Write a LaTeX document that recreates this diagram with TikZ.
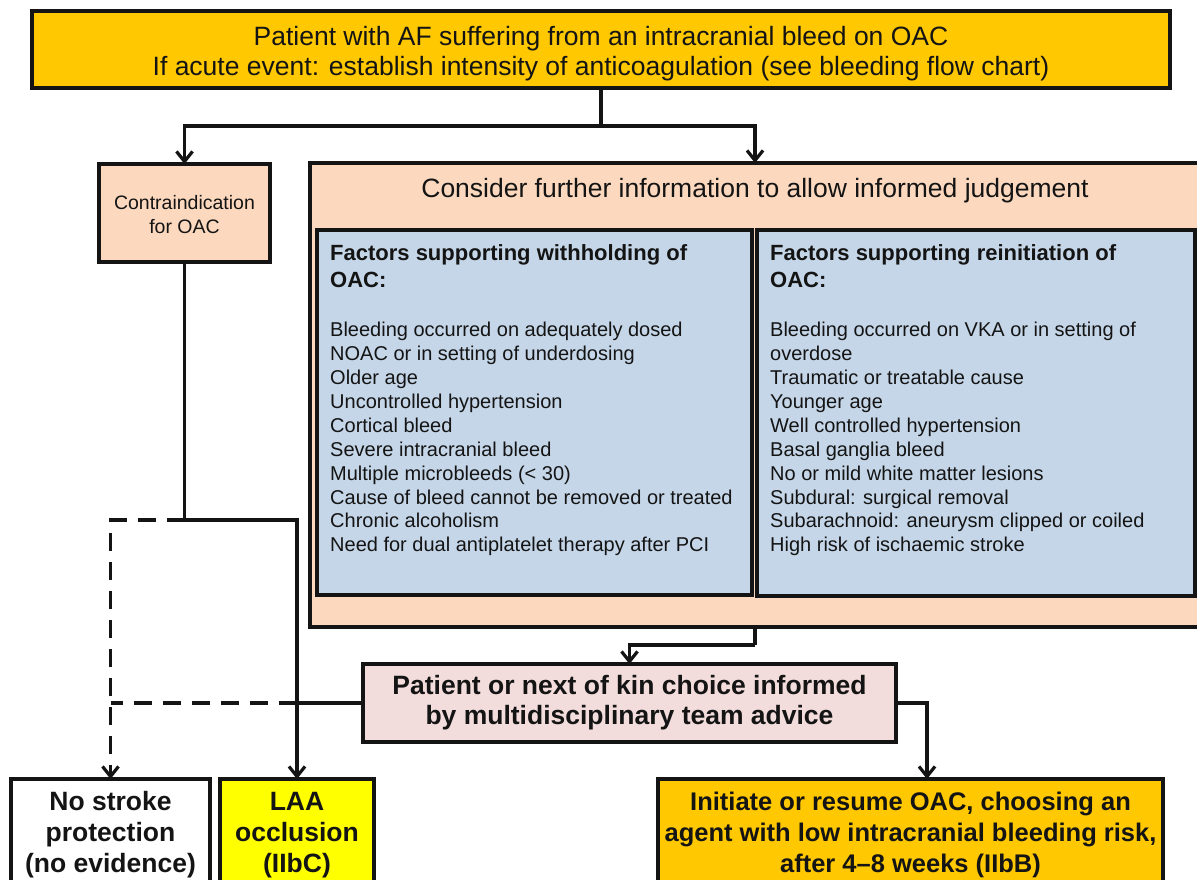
\documentclass[tikz,border=0pt]{standalone}
\usepackage{fontspec}
\setmainfont{Liberation Sans}
\usetikzlibrary{arrows.meta}
\definecolor{gold}{RGB}{255,200,0}
\definecolor{peach}{RGB}{252,217,190}
\definecolor{bluebox}{RGB}{197,214,232}
\definecolor{pinkbox}{RGB}{242,221,220}
\definecolor{yel}{RGB}{255,255,0}
\definecolor{ink}{RGB}{20,20,20}
\begin{document}
\begin{tikzpicture}[x=1pt,y=-1pt,
  box/.style={draw=ink, line width=3.2pt, inner sep=0pt, outer sep=0pt, align=center, text=ink},
  line/.style={draw=ink, line width=3.2pt},
  conn/.style={line, -{Straight Barb[length=10pt,width=16pt]}},
  dashline/.style={dash pattern=on 18pt off 11pt},
  hd/.style={font=\bfseries\fontsize{22}{27}\selectfont, align=left, inner sep=0pt, text=ink},
  bd/.style={font=\fontsize{20}{23.9}\selectfont, align=left, inner sep=0pt, text=ink},
  big/.style={font=\fontsize{26.5}{30}\selectfont},
  bigb/.style={font=\bfseries\fontsize{26.5}{31}\selectfont}]
\fill[white] (0,0) rectangle (1197,879);
\useasboundingbox (0,0) rectangle (1197,879);

\node[box, big, fill=gold, minimum width=1138pt, minimum height=77pt] (top) at (601,49.5)
  {\rule{0pt}{28pt}Patient with AF suffering from an intracranial bleed on OAC\\If acute event: establish intensity of anticoagulation (see bleeding flow chart)};
\node[box, fill=peach, minimum width=171pt, minimum height=98pt, font=\fontsize{19.5}{23.5}\selectfont] (contra) at (184.5,213)
  {\rule{0pt}{17pt}Contraindication\\for OAC};
\node[box, fill=peach, minimum width=890pt, minimum height=464pt] (consider) at (755,395) {};
\node[big, anchor=base, text=ink, inner sep=0pt] (considert) at (755,197) {Consider further information to allow informed judgement};

\node[box, fill=bluebox, minimum width=435pt, minimum height=365pt] (wh) at (534.5,412.5) {};
\node[box, fill=bluebox, minimum width=438pt, minimum height=366pt] (re) at (976,413) {};

\node[hd, anchor=north west] (whh) at (330,244) {Factors supporting withholding of\\OAC:};
\node[bd, anchor=north west] (whb) at (330,322) {Bleeding occurred on adequately dosed\\NOAC or in setting of underdosing\\Older age\\Uncontrolled hypertension\\Cortical bleed\\Severe intracranial bleed\\Multiple microbleeds (< 30)\\Cause of bleed cannot be removed or treated\\Chronic alcoholism\\Need for dual antiplatelet therapy after PCI};
\node[hd, anchor=north west] (reh) at (770,244) {Factors supporting reinitiation of\\OAC:};
\node[bd, anchor=north west] (reb) at (770,322) {Bleeding occurred on VKA or in setting of\\overdose\\Traumatic or treatable cause\\Younger age\\Well controlled hypertension\\Basal ganglia bleed\\No or mild white matter lesions\\Subdural: surgical removal\\Subarachnoid: aneurysm clipped or coiled\\High risk of ischaemic stroke};

\node[box, fill=pinkbox, minimum width=533pt, minimum height=78pt, font=\bfseries\fontsize{26.5}{30}\selectfont] (choice) at (629.5,703)
  {Patient or next of kin choice informed\\by multidisciplinary team advice};

\node[box, bigb, fill=white, minimum width=199pt, minimum height=106pt] (none) at (110.5,832) {\rule{0pt}{25pt}No stroke\\protection\\(no evidence)};
\node[box, bigb, fill=yel, minimum width=154pt, minimum height=106pt] (laa) at (297,832) {\rule{0pt}{25pt}LAA\\occlusion\\(IIbC)};
\node[box, fill=gold, minimum width=505pt, minimum height=106pt, font=\bfseries\fontsize{25.5}{31}\selectfont] (oac) at (910.5,832)
  {\rule{0pt}{25pt}Initiate or resume OAC, choosing an\\agent with low intracranial bleeding risk,\\after 4–8 weeks (IIbB)};

\coordinate (split) at (601,126);
\draw[line] (top.south) -- (split);
\draw[conn] (split) -| (contra.north);
\draw[conn] (split) -| (consider.north);

\coordinate (cj) at (184.5,520);
\draw[line] (contra.south) -- (cj);
\draw[conn] (cj) -| (laa.north);
\draw[conn, dashline] (cj) -| (none.north);
\draw[line] (choice.west) -- (choice.west -| laa.north);
\draw[line, dashline] (choice.west -| laa.north) -- (choice.west -| none.north);

\coordinate (mj) at (755,645);
\draw[line] (consider.south) -- (mj);
\draw[conn] (mj) -| (choice.north);
\draw[conn] (choice.east) -| ([xshift=16.5pt]oac.north);
\end{tikzpicture}
\end{document}
